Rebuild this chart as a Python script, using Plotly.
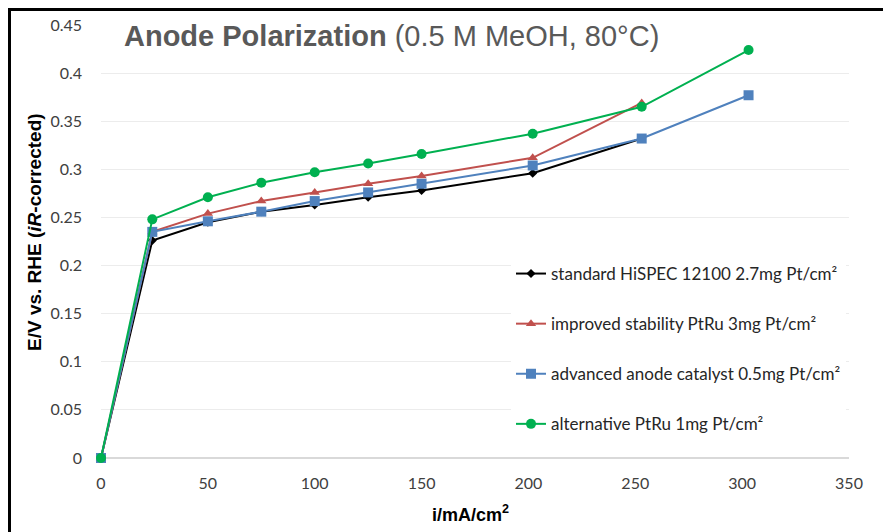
import plotly.graph_objects as go

x_std = [0, 24, 50, 75, 100, 125, 150, 202, 253]
y_std = [0, 0.226, 0.245, 0.256, 0.263, 0.271, 0.278, 0.296, 0.332]

x_imp = [0, 24, 50, 75, 100, 125, 150, 202, 253]
y_imp = [0, 0.235, 0.254, 0.267, 0.276, 0.285, 0.293, 0.312, 0.369]

x_adv = [0, 24, 50, 75, 100, 125, 150, 202, 253, 303]
y_adv = [0, 0.235, 0.246, 0.256, 0.267, 0.276, 0.285, 0.304, 0.332, 0.377]

x_alt = [0, 24, 50, 75, 100, 125, 150, 202, 253, 303]
y_alt = [0, 0.248, 0.271, 0.286, 0.297, 0.306, 0.316, 0.337, 0.365, 0.424]

names = [
    "standard HiSPEC 12100 2.7mg Pt/cm²",
    "improved stability PtRu 3mg Pt/cm²",
    "advanced anode catalyst 0.5mg Pt/cm²",
    "alternative PtRu 1mg Pt/cm²",
]
colors = ["#000000", "#C0504D", "#4F81BD", "#00B050"]
symbols = ["diamond", "triangle-up", "square", "circle"]
sizes = [7, 9, 10, 10]

xs = [x_std, x_imp, x_adv, x_alt]
ys = [y_std, y_imp, y_adv, y_alt]

fig = go.Figure()
for i in range(4):
    fig.add_trace(go.Scatter(
        x=xs[i], y=ys[i], name=names[i], mode="lines+markers",
        line=dict(color=colors[i], width=2),
        marker=dict(symbol=symbols[i], size=sizes[i], color=colors[i]),
        legendgroup=f"g{i}", cliponaxis=False,
    ))

L, R, T, B = 101, 34, 25, 74
W, H = 883, 532
pw, ph = W - L - R, H - T - B

def px(xp):
    return (xp - L) / pw

def py(yp):
    return (H - B - yp) / ph

tick_font = dict(family="Lato, sans-serif", size=16, color="#404040")

fig.update_layout(
    width=W, height=H,
    margin=dict(l=L, r=R, t=T, b=B, pad=0),
    paper_bgcolor="white", plot_bgcolor="white",
    showlegend=True,
    legend=dict(
        x=px(511), y=py(256), xanchor="left", yanchor="top",
        font=dict(family="Lato, sans-serif", size=17, color="#262626"),
        bgcolor="white", tracegroupgap=25, itemwidth=30,
    ),
    xaxis=dict(
        range=[0, 350], tickvals=[0, 50, 100, 150, 200, 250, 300, 350],
        showgrid=False, zeroline=False, showline=False,
        ticks="", tickfont=tick_font, ticklabelstandoff=14,
    ),
    yaxis=dict(
        range=[0, 0.45], tickvals=[0, 0.05, 0.1, 0.15, 0.2, 0.25, 0.3, 0.35, 0.4, 0.45],
        ticktext=["0", "0.05", "0.1", "0.15", "0.2", "0.25", "0.3", "0.35", "0.4", "0.45"],
        showgrid=True, gridcolor="#ececec", gridwidth=1,
        zeroline=True, zerolinecolor="#d9d9d9", zerolinewidth=2,
        showline=False, ticks="", tickfont=tick_font, ticklabelstandoff=18,
    ),
    annotations=[
        dict(
            text="<b>Anode Polarization</b> (0.5 M MeOH, 80°C)",
            x=px(122), y=py(36), xref="paper", yref="paper",
            xanchor="left", yanchor="middle", showarrow=False,
            font=dict(family="Liberation Sans, Arial, sans-serif", size=29, color="#595959"),
        ),
        dict(
            text="<b>E/V vs. RHE (<i>iR</i>-corrected)</b>",
            x=px(34), y=py(232), xref="paper", yref="paper",
            xanchor="center", yanchor="middle", textangle=-90, showarrow=False,
            font=dict(family="Liberation Sans, Arial, sans-serif", size=19, color="#000000"),
        ),
        dict(
            text="<b>i/mA/cm<sup>2</sup></b>",
            x=px(470), y=py(513), xref="paper", yref="paper",
            xanchor="center", yanchor="middle", showarrow=False,
            font=dict(family="Liberation Sans, Arial, sans-serif", size=18, color="#000000"),
        ),
    ],
    shapes=[
        dict(type="line", xref="paper", yref="paper",
             x0=px(9.5), x1=px(9.5), y0=py(8), y1=py(540),
             line=dict(color="black", width=3)),
        dict(type="line", xref="paper", yref="paper",
             x0=px(8), x1=px(890), y0=py(9.5), y1=py(9.5),
             line=dict(color="black", width=3)),
    ],
)

fig.write_html("out.html")
